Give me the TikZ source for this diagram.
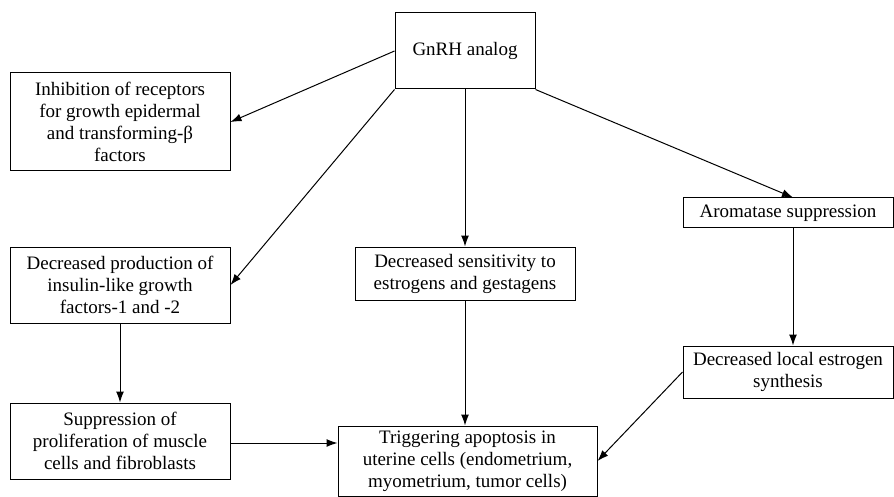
\documentclass[tikz,border=0pt]{standalone}
\usepackage{fontspec}
\setmainfont{Liberation Serif}
\usepackage{tikz}
\usetikzlibrary{arrows.meta,positioning}

\tikzset{
  effbox/.style={rectangle, draw=black, line width=1pt, align=center,
                 inner sep=2pt, font=\fontsize{19}{22}\selectfont},
  effarrow/.style={-{Latex[length=11pt,width=8pt]}, line width=1pt}
}

\begin{document}
\begin{tikzpicture}[x=1pt, y=-1pt]
      \useasboundingbox (0,0) rectangle (894,497);

      % top node
      \node[effbox, minimum width=140pt, minimum height=76pt] (gnrh) at (465,51) {GnRH analog};

      % left column
      \node[effbox, minimum width=220pt, minimum height=98pt] (inhib) at (120,122)
        {Inhibition of receptors\\for growth epidermal\\and transforming-β\\factors};
      \node[effbox, minimum width=220pt, minimum height=76pt] (prod) at (120,285)
        {Decreased production of\\insulin-like growth\\factors-1 and -2};
      \node[effbox, minimum width=220pt, minimum height=76pt] (supp) at (120,441)
        {Suppression of\\proliferation of muscle\\cells and fibroblasts};

      % middle column
      \node[effbox, minimum width=220pt, minimum height=53pt] (sens) at (465,273.5)
        {Decreased sensitivity to\\estrogens and gestagens};
      \node[effbox, minimum width=259pt, minimum height=70pt] (trig) at (467.5,461)
        {Triggering apoptosis in\\uterine cells (endometrium,\\myometrium, tumor cells)};

      % right column
      \node[effbox, minimum width=210pt, minimum height=30pt] (arom) at (788,213)
        {Aromatase suppression};
      \node[effbox, minimum width=210pt, minimum height=52pt] (loc) at (788,372)
        {Decreased local estrogen\\synthesis};

      % connectors
      \draw[effarrow] (gnrh.west) -- (inhib.east);
      \draw[effarrow] (gnrh.south west) -- (prod.east);
      \draw[effarrow] (gnrh.south) -- (sens.north);
      \draw[effarrow] (gnrh.south east) -- ([xshift=5pt]arom.north);
      \draw[effarrow] ([xshift=5pt]arom.south) -- ([xshift=5pt]loc.north);
      \draw[effarrow] (prod.south) -- (supp.north);
      \draw[effarrow] ([yshift=-2pt]supp.east) -- ([yshift=-2pt]supp.east -| trig.west);
      \draw[effarrow] (sens.south) -- (sens.south |- trig.north);
      \draw[effarrow] (loc.west) -- (trig.east);
\end{tikzpicture}
\end{document}
